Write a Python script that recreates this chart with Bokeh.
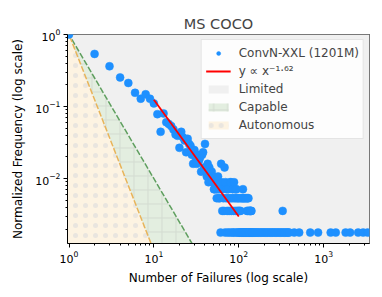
import numpy as np
from bokeh.plotting import figure
from bokeh.models import Range1d, Legend, LegendItem, FixedTicker, ColumnDataSource
from bokeh.embed import file_html
from bokeh.resources import INLINE

TITLE = "MS COCO"
X_LABEL = "Number of Failures (log scale)"
Y_LABEL = "Normalized Frequency (log scale)"
SERIES_NAME = "ConvN-XXL (1201M)"
FIT_LABEL = "y ∝ x⁻¹·⁶²"
REGIONS = ["Limited", "Capable", "Autonomous"]

# number of samples at the most common failure count (normalizer)
TOTAL = 560

# failure count -> number of samples
failures = [
    1, 2, 3, 4, 5, 6, 7, 8, 9, 10,
    11, 12, 13, 14, 15, 16, 17, 18, 19, 20,
    21, 22, 23, 24, 25, 26, 27, 28, 29, 30,
    31, 32, 33, 34, 35, 36, 37, 38, 39, 40,
    41, 42, 43, 44, 45, 46, 47, 48, 49, 50,
    51, 52, 53, 54, 55, 56, 57, 58, 59, 60,
    61, 62, 63, 64, 65, 66, 67, 68, 69, 70,
    71, 72, 73, 74, 75, 76, 77, 78, 79, 80,
    81, 82, 83, 84, 85, 86, 87, 88, 89, 90,
    91, 92, 93, 94, 95, 96, 97, 98, 99, 100,
    101, 102, 103, 104, 105, 106, 107, 108, 109, 110,
    111, 112, 113, 114, 115, 116, 117, 118, 119, 120,
    121, 123, 124, 125, 126, 127, 128, 129, 130, 131,
    132, 133, 134, 135, 136, 137, 138, 139, 140, 141,
    142, 145, 148, 152, 156, 160, 165, 170, 175, 181,
    187, 193, 199, 206, 213, 220, 228, 236, 244, 252,
    261, 270, 280, 290, 300, 311, 322, 329, 334, 346,
    358, 371, 384, 393, 450, 515, 695, 860, 1210, 1390,
    1815, 2050, 2550, 2920, 3300,
]
counts = [
    560, 301, 203, 142, 119, 87, 72, 83, 72, 62,
    44, 25, 45, 34, 32, 30, 27, 23, 22, 15,
    25, 21, 19, 13, 20, 17, 16, 12, 9, 14,
    11, 9, 12, 10, 11, 7, 12, 13, 8, 17,
    7, 6, 9, 5, 8, 7, 6, 7, 5, 6,
    4, 4, 5, 4, 3, 4, 6, 3, 4, 3,
    1, 9, 5, 2, 4, 3, 2, 8, 1, 5,
    3, 4, 2, 1, 4, 3, 2, 1, 5, 3,
    5, 2, 1, 3, 4, 1, 2, 5, 3, 1,
    4, 2, 3, 4, 1, 2, 3, 1, 2, 3,
    1, 2, 1, 3, 2, 1, 1, 3, 1, 1,
    3, 4, 1, 3, 1, 1, 3, 1, 1, 3,
    1, 1, 3, 2, 1, 3, 2, 1, 3, 1,
    2, 1, 2, 1, 2, 1, 2, 2, 1, 2,
    1, 1, 1, 1, 1, 1, 1, 1, 1, 1,
    1, 1, 1, 1, 1, 1, 1, 1, 1, 1,
    1, 1, 1, 1, 1, 1, 1, 2, 1, 1,
    1, 1, 1, 1, 1, 1, 1, 1, 1, 1,
    1, 1, 1, 1, 1,
]

# power-law fit segment
fit_x = [10, 100]
fit_y = [0.124, 0.00298]

# region boundaries: y = x ** exponent
CAPABLE_EXP = -2.0
AUTONOMOUS_EXP = -3.0

freq = [c / TOTAL for c in counts]

p = figure(width=382, height=297, x_axis_type="log", y_axis_type="log",
           x_range=Range1d(0.96, 3470), y_range=Range1d(0.00126, 1.0),
           output_backend="svg", toolbar_location=None, title=TITLE)

p.min_border_left = 67
p.min_border_right = 13
p.min_border_top = 34
p.min_border_bottom = 54
p.background_fill_color = "white"
p.border_fill_color = "white"
p.outline_line_color = "black"
p.outline_line_alpha = 1.0
p.outline_line_width = 1
p.grid.visible = False

# regions
lo, hi = 1e-4, 10.0
x0 = 0.5
lim = p.patch([x0, 1e4, 1e4, x0], [lo, lo, hi, hi], fill_color="#f0f0f0",
              line_color="#d8d8d8", line_alpha=0.0)

cap_end = lo ** (1.0 / CAPABLE_EXP)
cap = p.patch([x0, cap_end, x0], [x0 ** CAPABLE_EXP, lo, lo], fill_color="#e3eee0",
              line_color=None, hatch_pattern="cross", hatch_color="#d3dbd1",
              hatch_scale=14, hatch_weight=1)
aut_end = lo ** (1.0 / AUTONOMOUS_EXP)
aut = p.patch([x0, aut_end, x0], [x0 ** AUTONOMOUS_EXP, lo, lo], fill_color="#fdf3e2",
              line_color=None, hatch_pattern="dot", hatch_color="#e9e5df",
              hatch_scale=10, hatch_weight=1)

p.line([x0, cap_end], [x0 ** CAPABLE_EXP, lo], line_color="#5f9f5f", line_width=1.5,
       line_dash="6 2")
p.line([x0, aut_end], [x0 ** AUTONOMOUS_EXP, lo], line_color="#e8b45a", line_width=1.5,
       line_dash="6 2")

src = ColumnDataSource(dict(x=failures, y=freq))
sc = p.scatter("x", "y", source=src, size=8, fill_color="#1e90ff", line_color="#1e90ff",
               line_width=0.5)
fit = p.line(fit_x, fit_y, line_color="red", line_width=1.8)

# axes
major_x = [10 ** k for k in range(0, 4)]
minor_x = [m * 10 ** k for k in range(0, 4) for m in range(2, 10)]
major_y = [10.0 ** k for k in range(-3, 1)]
minor_y = [m * 10.0 ** k for k in range(-3, 0) for m in range(2, 10)]
p.xaxis.ticker = FixedTicker(ticks=major_x, minor_ticks=minor_x)
p.yaxis.ticker = FixedTicker(ticks=major_y, minor_ticks=minor_y)

for ax in (p.xaxis, p.yaxis):
    ax.axis_line_color = "black"
    ax.major_tick_line_color = "black"
    ax.minor_tick_line_color = "black"
    ax.major_tick_out = 4
    ax.major_tick_in = 0
    ax.minor_tick_out = 2
    ax.minor_tick_in = 0
    ax.major_label_text_font = "DejaVu Sans"
    ax.major_label_text_font_size = "11px"
    ax.major_label_text_color = "black"
    ax.axis_label_text_font = "DejaVu Sans"
    ax.axis_label_text_font_size = "12px"
    ax.axis_label_text_font_style = "normal"
    ax.axis_label_text_color = "black"
    ax.major_label_standoff = 3

p.xaxis.axis_label_standoff = 5
p.yaxis.axis_label_standoff = 7
p.xaxis.axis_label = X_LABEL
p.yaxis.axis_label = Y_LABEL

p.title.text_font = "DejaVu Sans"
p.title.text_font_size = "14.5px"
p.title.text_font_style = "normal"
p.title.align = "center"
p.title.standoff = 6

legend = Legend(items=[
    LegendItem(label=SERIES_NAME, renderers=[sc]),
    LegendItem(label=FIT_LABEL, renderers=[fit]),
    LegendItem(label=REGIONS[0], renderers=[lim]),
    LegendItem(label=REGIONS[1], renderers=[cap]),
    LegendItem(label=REGIONS[2], renderers=[aut]),
], location="top_right")
legend.label_text_font = "DejaVu Sans"
legend.label_text_font_size = "12px"
legend.glyph_width = 25
legend.glyph_height = 10
legend.label_height = 18
legend.spacing = 0
legend.padding = 4
legend.margin = 5
legend.label_standoff = 8
legend.border_line_color = "#cccccc"
legend.background_fill_alpha = 0.85
p.add_layout(legend)

open("out.html", "w").write(file_html(p, INLINE))
